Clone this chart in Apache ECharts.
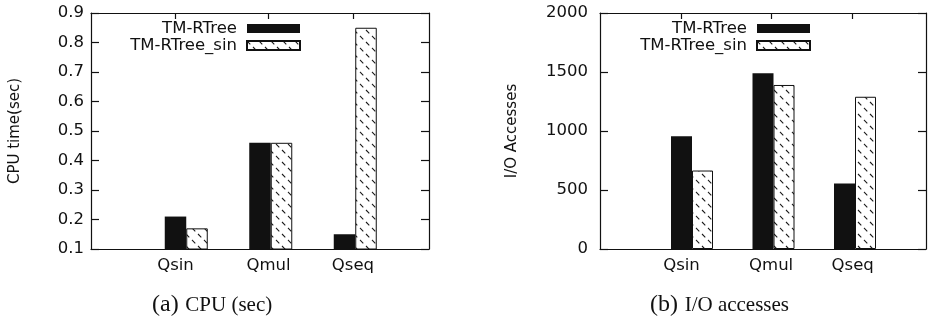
<!DOCTYPE html>
<html><head><meta charset="utf-8">
<script src="https://cdn.jsdelivr.net/npm/echarts@6/dist/echarts.min.js"></script>
<style>html,body{margin:0;padding:0;background:#fff}#c{width:929px;height:321px}</style>
</head><body><div id="c"></div>
<script>
// ---- data ----
const categories = ['Qsin', 'Qmul', 'Qseq'];
const seriesNames = ['TM-RTree', 'TM-RTree_sin'];
const cpuTMRTree = [0.21, 0.46, 0.15];
const cpuTMRTreeSin = [0.17, 0.46, 0.85];
const ioTMRTree = [955, 1490, 555];
const ioTMRTreeSin = [665, 1390, 1290];
const cpuYAxis = { min: 0.1, max: 0.9, interval: 0.1 };
const ioYAxis = { min: 0, max: 2000, interval: 500 };
// ---- style ----
const FONT = "'DejaVu Sans', sans-serif";
const SERIF = "'Liberation Serif', 'DejaVu Serif', serif";
const INK = '#111';
const FS = 16.5;
const labelPositions = [1, 2.1, 3.1];

function makeHatch() {
  const n = 12;
  const c = document.createElement('canvas');
  c.width = n; c.height = n;
  const ctx = c.getContext('2d');
  ctx.fillStyle = '#fff'; ctx.fillRect(0, 0, n, n);
  ctx.strokeStyle = '#1a1a1a'; ctx.lineWidth = 1.1;
  const per = n * Math.SQRT2 / 2;
  ctx.setLineDash([per * 0.55, per * 0.45]);
  [[-n / 2, -n / 2, 1.5 * n, 1.5 * n], [-1.5 * n, -n / 2, n / 2, 1.5 * n], [n / 2, -n / 2, 2.5 * n, 1.5 * n]].forEach(s => {
    ctx.beginPath(); ctx.moveTo(s[0], s[1]); ctx.lineTo(s[2], s[3]); ctx.stroke();
  });
  return c;
}
const hatch = makeHatch();

const grids = [
  { left: 91, top: 13, width: 338, height: 236 },
  { left: 600, top: 13, width: 326, height: 236 }
];

const axisLine = { show: true, onZero: false, lineStyle: { color: INK, width: 1.2 } };
const catData = ['', ...categories, ''];

function xAxesFor(gi) {
  return [
    { type: 'category', gridIndex: gi, data: catData, boundaryGap: false, position: 'bottom',
      axisLine: axisLine, axisTick: { show: false }, axisLabel: { show: false }, splitLine: { show: false } },
    { type: 'value', gridIndex: gi, min: 0, max: 4, position: 'bottom',
      axisLine: { show: false, onZero: false }, axisTick: { show: false }, splitLine: { show: false },
      axisLabel: { customValues: labelPositions, margin: 8, color: INK, fontFamily: FONT, fontSize: FS,
        formatter: v => categories[Math.round(v) - 1] || '' } },
    { type: 'value', gridIndex: gi, min: 0, max: 4, position: 'top',
      axisLine: axisLine, splitLine: { show: false }, axisLabel: { show: false },
      axisTick: { show: true, inside: true, length: 6, customValues: labelPositions, lineStyle: { color: INK, width: 1.2 } } }
  ];
}
function yAxesFor(gi, rng, margin, fmt) {
  return [
    { type: 'value', gridIndex: gi, position: 'left', min: rng.min, max: rng.max, interval: rng.interval,
      axisLine: axisLine, splitLine: { show: false },
      axisTick: { show: true, inside: true, length: 8, lineStyle: { color: INK, width: 1.2 } },
      axisLabel: { margin: margin, color: INK, fontFamily: FONT, fontSize: FS, formatter: fmt } },
    { type: 'value', gridIndex: gi, position: 'right', min: rng.min, max: rng.max, interval: rng.interval,
      axisLine: axisLine, splitLine: { show: false }, axisLabel: { show: false },
      axisTick: { show: true, inside: true, length: 8, lineStyle: { color: INK, width: 1.2 } } }
  ];
}
function barsFor(gi, a, b, bw) {
  const pad = v => [null, ...v, null];
  const common = { type: 'bar', xAxisIndex: gi * 3, yAxisIndex: gi * 2, barWidth: bw, barGap: '0%' };
  return [
    Object.assign({}, common, { name: '_ghost', silent: true, data: pad([null, null, null]), itemStyle: { color: 'transparent' } }),
    Object.assign({}, common, { name: seriesNames[0], data: pad(a), itemStyle: { color: INK } }),
    Object.assign({}, common, { name: seriesNames[1], data: pad(b),
      itemStyle: { color: { image: hatch, repeat: 'repeat' }, borderColor: INK, borderWidth: 1 } })
  ];
}
function legendFor(right) {
  return {
    data: seriesNames, orient: 'vertical', align: 'right', right: right, top: 20, padding: 0,
    itemWidth: 53, itemHeight: 9, itemGap: 0, icon: 'rect', selectedMode: false,
    textStyle: { fontFamily: FONT, fontSize: FS, color: INK, lineHeight: 16, padding: [0, 5, 0, 0] }
  };
}

const chart = echarts.init(document.getElementById('c'), null, { renderer: 'canvas' });
chart.setOption({
  animation: false,
  backgroundColor: '#fff',
  grid: grids,
  xAxis: [...xAxesFor(0), ...xAxesFor(1)],
  yAxis: [...yAxesFor(0, cpuYAxis, 7, v => v.toFixed(1)), ...yAxesFor(1, ioYAxis, 12, v => String(Math.round(v)))],
  legend: [legendFor(929 - 301), legendFor(929 - 811)],
  series: [...barsFor(0, cpuTMRTree, cpuTMRTreeSin, 21.5), ...barsFor(1, ioTMRTree, ioTMRTreeSin, 21)],
  graphic: [
    { type: 'text', x: 15, y: 131, rotation: Math.PI / 2,
      style: { text: 'CPU time(sec)', font: "15px 'DejaVu Sans', sans-serif", fill: INK, align: 'center', verticalAlign: 'middle' } },
    { type: 'text', x: 512, y: 131, rotation: Math.PI / 2,
      style: { text: 'I/O Accesses', font: "15px 'DejaVu Sans', sans-serif", fill: INK, align: 'center', verticalAlign: 'middle' } },
    { type: 'text', x: 152, y: 305,
      style: { text: '{a|(a)}  {b|CPU (sec)}', align: 'left', verticalAlign: 'middle', fill: INK,
        rich: { a: { fontFamily: SERIF, fontSize: 24, fill: INK }, b: { fontFamily: SERIF, fontSize: 21, fill: INK } } } },
    { type: 'text', x: 650, y: 305,
      style: { text: '{a|(b)}  {b|I/O accesses}', align: 'left', verticalAlign: 'middle', fill: INK,
        rich: { a: { fontFamily: SERIF, fontSize: 24, fill: INK }, b: { fontFamily: SERIF, fontSize: 21, fill: INK } } } }
  ]
});
</script>
</body></html>
